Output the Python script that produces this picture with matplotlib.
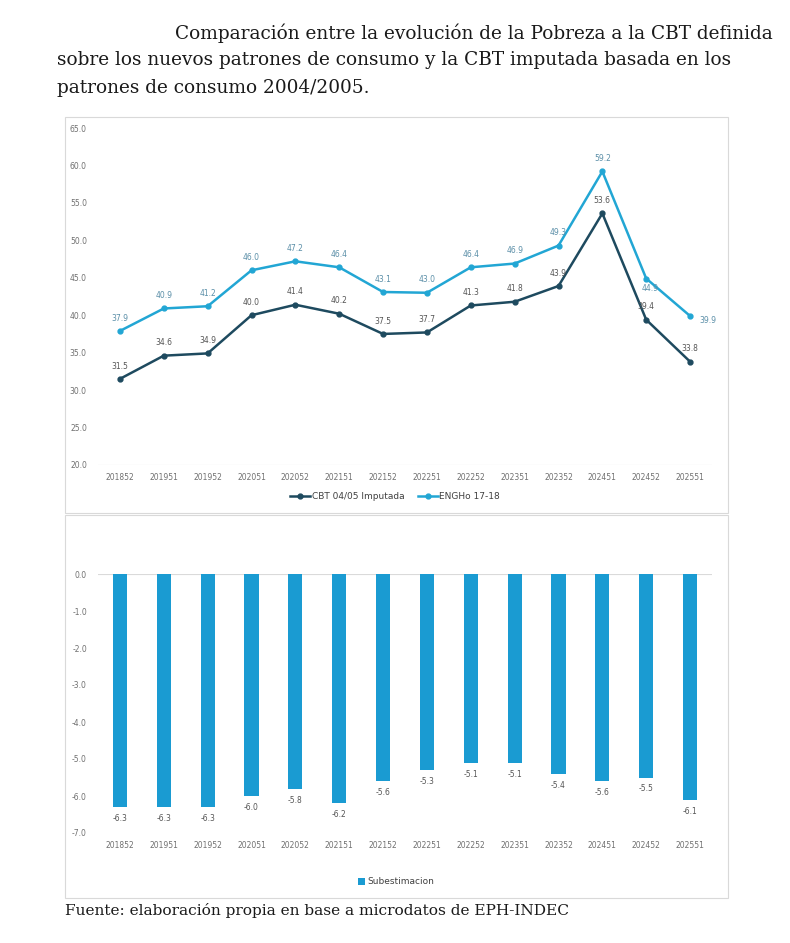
import numpy as np
import matplotlib
matplotlib.use("Agg")
from matplotlib import pyplot as plt
from matplotlib.patches import Rectangle

# datos
periodos = ['201852', '201951', '201952', '202051', '202052', '202151', '202152',
            '202251', '202252', '202351', '202352', '202451', '202452', '202551']
cbt_imputada = [31.5, 34.6, 34.9, 40.0, 41.4, 40.2, 37.5, 37.7, 41.3, 41.8, 43.9, 53.6, 39.4, 33.8]
engho = [37.9, 40.9, 41.2, 46.0, 47.2, 46.4, 43.1, 43.0, 46.4, 46.9, 49.3, 59.2, 44.9, 39.9]
subestimacion = [-6.3, -6.3, -6.3, -6.0, -5.8, -6.2, -5.6, -5.3, -5.1, -5.1, -5.4, -5.6, -5.5, -6.1]

titulo = ['Comparación entre la evolución de la Pobreza a la CBT definida',
          'sobre los nuevos patrones de consumo y la CBT imputada basada en los',
          'patrones de consumo 2004/2005.']
fuente = 'Fuente: elaboración propia en base a microdatos de EPH-INDEC'

# colores
c_oscuro = '#1e4a5f'
c_claro = '#22a6d4'
c_barra = '#1a9bd2'
c_texto = '#707070'
c_grilla = '#dadada'

W, H = 790, 943
fig = plt.figure(figsize=(W / 100, H / 100), dpi=100)
fig.patch.set_facecolor('white')

def fx(px):
    return px / W

def fy(py):
    return 1 - py / H

# titulo
fig.text(fx(175), fy(33), titulo[0], family='DejaVu Serif', fontsize=13.3, va='center', ha='left', color='#1a1a1a')
fig.text(fx(57), fy(60), titulo[1], family='DejaVu Serif', fontsize=13.3, va='center', ha='left', color='#1a1a1a')
fig.text(fx(57), fy(88), titulo[2], family='DejaVu Serif', fontsize=13.3, va='center', ha='left', color='#1a1a1a')
fig.text(fx(65), fy(910), fuente, family='DejaVu Serif', fontsize=11.1, va='center', ha='left', color='#1a1a1a')

# marcos de los graficos
for (x0, y0, x1, y1) in [(65, 117, 728, 513), (65, 515, 728, 898)]:
    fig.patches.append(Rectangle((fx(x0), fy(y1)), fx(x1 - x0), fy(y0) - fy(y1),
                                 transform=fig.transFigure, fill=False,
                                 edgecolor='#d9d9d9', linewidth=0.8))

x = np.arange(len(periodos))

# ---- grafico de lineas ----
ax1 = fig.add_axes([fx(98), fy(465), fx(614), fy(128) - fy(465)])
ax1.plot(x, cbt_imputada, color=c_oscuro, lw=1.8, marker='o', ms=3.5, label='CBT 04/05 Imputada')
ax1.plot(x, engho, color=c_claro, lw=1.8, marker='o', ms=3.5, label='ENGHo 17-18')
ax1.set_xlim(-0.5, len(periodos) - 0.5)
ax1.set_ylim(20, 65)
ax1.set_yticks(np.arange(20, 66, 5))
ax1.set_yticklabels(['%.1f' % v for v in np.arange(20, 66, 5)])
ax1.set_xticks(x)
ax1.set_xticklabels(periodos)

for i, v in enumerate(cbt_imputada):
    ax1.annotate('%.1f' % v, (i, v), xytext=(0, 6), textcoords='offset points',
                 ha='center', va='bottom', fontsize=5.5, color='#555555')
for i, v in enumerate(engho):
    dx, dy, va = 0, 6, 'bottom'
    if i == 12:
        dx, dy, va = 3, -4, 'top'
    if i == 13:
        dx, dy, va = 13, -3, 'center'
    ax1.annotate('%.1f' % v, (i, v), xytext=(dx, dy), textcoords='offset points',
                 ha='center', va=va, fontsize=5.5, color='#5b8fa8')

# ---- grafico de barras ----
ax2 = fig.add_axes([fx(98), fy(833), fx(614), fy(574) - fy(833)])
ax2.bar(x, subestimacion, width=0.32, color=c_barra, label='Subestimacion')
ax2.set_xlim(-0.5, len(periodos) - 0.5)
ax2.set_ylim(-7, 0)
ax2.set_yticks(np.arange(-7, 0.5, 1))
ax2.set_yticklabels(['%.1f' % v for v in np.arange(-7, 0.5, 1)])
ax2.set_xticks(x)
ax2.set_xticklabels(periodos)
for i, v in enumerate(subestimacion):
    ax2.annotate('%.1f' % v, (i, v), xytext=(0, -5), textcoords='offset points',
                 ha='center', va='top', fontsize=5.5, color='#555555')

for ax in (ax1, ax2):
    for s in ax.spines.values():
        s.set_visible(False)
    ax.tick_params(length=0, labelsize=5.5, labelcolor=c_texto)
    ax.tick_params(axis='x', pad=6)
    ax.tick_params(axis='y', pad=8)
    ax.set_facecolor('white')

ax1.axhline(20, color=c_grilla, lw=0.8, zorder=0)
ax2.axhline(0, color=c_grilla, lw=0.8, zorder=0)

fig.legend(*ax1.get_legend_handles_labels(), loc='center', bbox_to_anchor=(fx(395), fy(497)),
           ncol=2, frameon=False, fontsize=6.5, handlelength=2.2, columnspacing=1.5,
           handletextpad=0.2, labelcolor='#404040')
fig.legend(*ax2.get_legend_handles_labels(), loc='center', bbox_to_anchor=(fx(396), fy(882)),
           frameon=False, fontsize=6.5, handlelength=0.8, handleheight=0.8,
           handletextpad=0.3, labelcolor='#404040')

plt.savefig('out.png', dpi=100, facecolor='white')
plt.close()
